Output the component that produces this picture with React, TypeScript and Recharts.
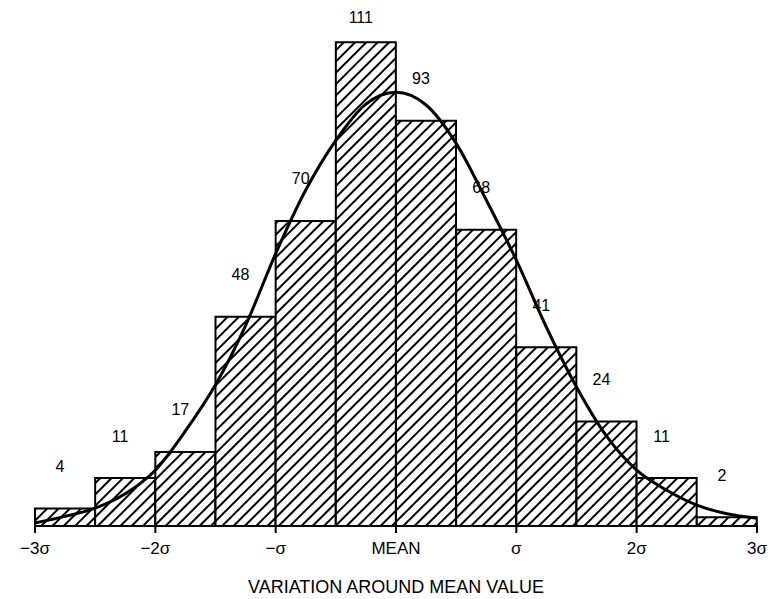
import { ComposedChart, Bar, Line, XAxis, YAxis, LabelList, Label } from "recharts";

// histogram bins, 0.5 sigma wide, from -3 sigma to +3 sigma
const binCenters = ["-2.75", "-2.25", "-1.75", "-1.25", "-0.75", "-0.25", "0.25", "0.75", "1.25", "1.75", "2.25", "2.75"];
const binCounts = [4, 11, 17, 48, 70, 111, 93, 68, 41, 24, 11, 2];

// fitted normal curve, every quarter sigma
const curveX = [-3, -2.75, -2.5, -2.25, -2, -1.75, -1.5, -1.25, -1, -0.75, -0.5, -0.25, 0, 0.25, 0.5, 0.75, 1, 1.25, 1.5, 1.75, 2, 2.25, 2.5, 2.75, 3];
const curveY = [0.7, 2.2, 4.1, 7.4, 12.8, 21.8, 32.4, 46.0, 62.5, 77.1, 88.5, 96.8, 99.5, 96.6, 87.8, 74.8, 61.0, 45.6, 31.9, 20.6, 12.8, 8.2, 4.8, 2.8, 1.8];

const sigmaTicks = [-3, -2, -1, 0, 1, 2, 3];
const sigmaLabels = ["−3σ", "−2σ", "−σ", "MEAN", "σ", "2σ", "3σ"];

const FONT = "'Liberation Sans', Arial, Helvetica, sans-serif";

const bins = binCenters.map((bin, i) => ({ bin, count: binCounts[i] }));
const curve = curveX.map((x, i) => ({ x, y: curveY[i] }));

function CountLabel(props: any) {
  const { x, y, width, value } = props;
  const cy = Math.max(17, y - 42);
  return (
    <text
      x={x + width / 2 - 5}
      y={cy}
      textAnchor="middle"
      dominantBaseline="central"
      fontSize={16}
      fontFamily={FONT}
      fill="#000"
    >
      {value}
    </text>
  );
}

export default function App() {
  return (
    <div style={{ position: "absolute", left: 0, top: 0, background: "#fff" }}>
      <ComposedChart
        width={768}
        height={599}
        data={bins}
        margin={{ top: 3, right: 11, left: 35, bottom: 33 }}
        barCategoryGap={0}
        barGap={0}
      >
        <defs>
          <pattern id="hatch" width="8" height="8" patternUnits="userSpaceOnUse" patternTransform="rotate(45)">
            <rect width="8" height="8" fill="#fff" />
            <line x1="1" y1="0" x2="1" y2="8" stroke="#000" strokeWidth={2} />
          </pattern>
        </defs>
        <XAxis xAxisId="cat" dataKey="bin" hide height={0} />
        <XAxis
          xAxisId="num"
          type="number"
          dataKey="x"
          domain={[-3, 3]}
          ticks={sigmaTicks}
          tickFormatter={(v: number) => sigmaLabels[sigmaTicks.indexOf(v)]}
          height={40}
          tickSize={7}
          tickMargin={9}
          axisLine={{ stroke: "#000", strokeWidth: 2 }}
          tickLine={{ stroke: "#000", strokeWidth: 2 }}
          tick={{ fill: "#000", fontSize: 17, fontFamily: FONT }}
          allowDataOverflow
        >
          <Label
            value="VARIATION AROUND MEAN VALUE"
            position="bottom"
            offset={14}
            fill="#000"
            fontSize={18}
            fontFamily={FONT}
          />
        </XAxis>
        <YAxis domain={[0, 120]} hide />
        <Bar
          xAxisId="cat"
          dataKey="count"
          fill="url(#hatch)"
          stroke="#000"
          strokeWidth={2}
          isAnimationActive={false}
        >
          <LabelList dataKey="count" content={CountLabel} />
        </Bar>
        <Line
          xAxisId="num"
          data={curve}
          dataKey="y"
          type="monotone"
          stroke="#000"
          strokeWidth={3}
          dot={false}
          activeDot={false}
          isAnimationActive={false}
        />
      </ComposedChart>
    </div>
  );
}
